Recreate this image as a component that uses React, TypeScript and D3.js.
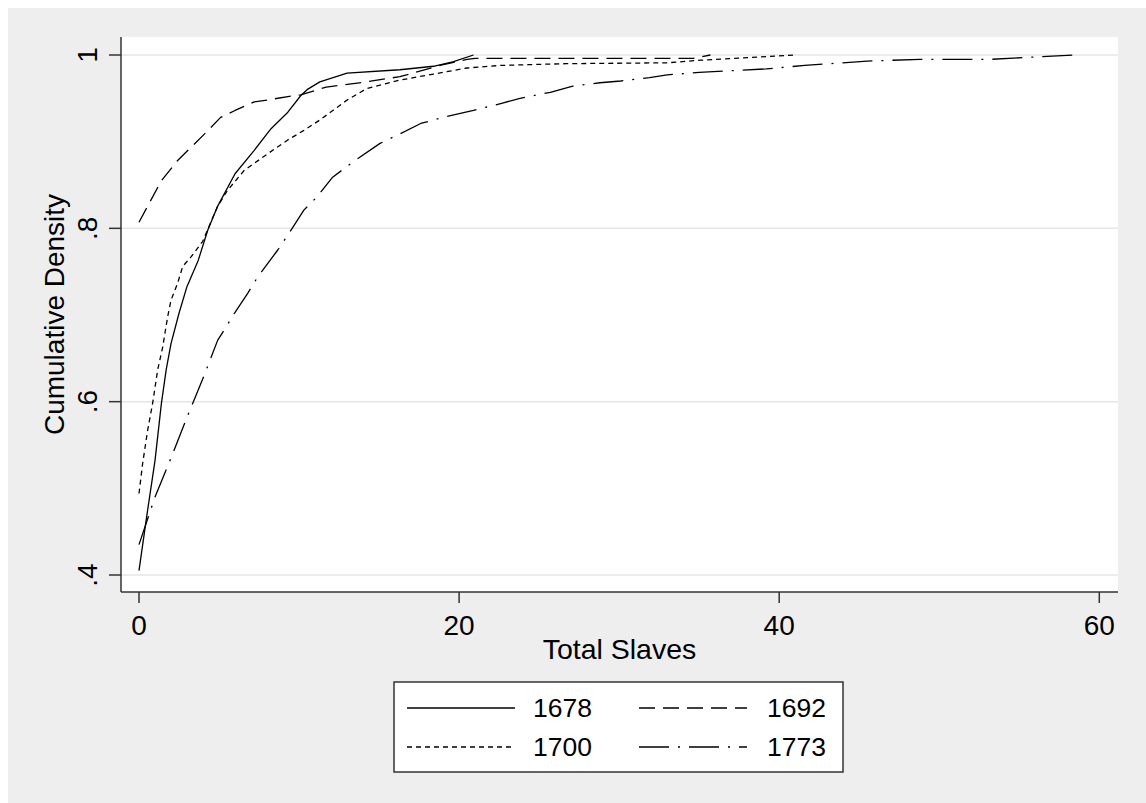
import React from "react";
import * as d3 from "d3";

// ---- data (x = total slaves, y = cumulative density) ----
const s1678: [number, number][] = [
  [0, 0.405], [0.5, 0.47], [1.0, 0.532], [1.4, 0.598], [1.7, 0.637], [2.0, 0.667],
  [2.5, 0.702], [3.0, 0.733], [3.7, 0.763], [4.3, 0.798], [4.9, 0.825], [6.0, 0.863],
  [7.2, 0.89], [8.25, 0.915], [9.3, 0.934], [10.1, 0.953], [10.5, 0.96], [11.3, 0.969],
  [13.0, 0.979], [16.3, 0.983], [18.4, 0.987], [19.6, 0.992], [20.9, 1.0],
];
const s1692: [number, number][] = [
  [0, 0.807], [1.4, 0.855], [2.4, 0.878], [4.1, 0.909], [5.1, 0.928], [6.0, 0.936],
  [7.2, 0.946], [8.0, 0.948], [9.3, 0.952], [10.1, 0.954], [11.7, 0.963], [14.2, 0.969],
  [16.3, 0.975], [18.8, 0.988], [20.5, 0.995], [21.0, 0.996], [34.6, 0.996], [35.7, 1.0],
];
const s1700: [number, number][] = [
  [0, 0.494], [0.23, 0.529], [0.54, 0.567], [0.85, 0.598], [1.17, 0.637], [1.48, 0.663],
  [1.79, 0.698], [2.0, 0.717], [2.42, 0.737], [2.73, 0.756], [3.25, 0.767], [3.98, 0.785],
  [4.9, 0.825], [5.54, 0.844], [6.58, 0.867], [8.04, 0.886], [9.3, 0.902], [10.3, 0.913],
  [11.3, 0.925], [13.0, 0.948], [14.2, 0.961], [16.3, 0.971], [18.4, 0.978], [20.5, 0.985],
  [22.6, 0.988], [26.7, 0.99], [33.0, 0.991], [35.1, 0.994], [41.0, 1.0],
];
const s1773: [number, number][] = [
  [0, 0.435], [1.0, 0.49], [2.0, 0.535], [3.0, 0.582], [4.0, 0.627], [4.92, 0.671],
  [5.33, 0.683], [5.96, 0.702], [6.79, 0.725], [7.42, 0.744], [8.67, 0.775], [9.5, 0.798],
  [10.3, 0.821], [11.1, 0.836], [12.1, 0.859], [13.4, 0.877], [15.06, 0.898], [16.3, 0.909],
  [17.6, 0.921], [19.0, 0.928], [20.9, 0.936], [22.6, 0.944], [23.8, 0.95], [25.7, 0.957],
  [27.1, 0.964], [28.8, 0.968], [30.1, 0.97], [31.9, 0.974], [33.0, 0.977], [35.0, 0.98],
  [37.1, 0.982], [39.2, 0.984], [41.6, 0.988], [45.5, 0.993], [48.8, 0.995], [53.2, 0.995],
  [55.3, 0.997], [58.4, 1.0],
];
const seriesNames = ["1678", "1692", "1700", "1773"];
const xTicks = [0, 20, 40, 60];
const yTicks = [0.4, 0.6, 0.8, 1];
const yTickLabels = [".4", ".6", ".8", "1"];
const xTitle = "Total Slaves";
const yTitle = "Cumulative Density";

const FONT = "'Liberation Sans', Arial, Helvetica, sans-serif";

export default function App() {
  const W = 1146, H = 803;
  const plot = { left: 121, right: 1118, top: 37, bottom: 592 };
  const x = d3.scaleLinear().domain([0, 60]).range([139, 1099.3]);
  const y = d3.scaleLinear().domain([0.4, 1]).range([575, 55]);
  const line = d3.line<[number, number]>().x((d) => x(d[0])).y((d) => y(d[1]));

  const series = [
    { name: seriesNames[0], data: s1678, dash: "none" },
    { name: seriesNames[1], data: s1692, dash: "16,8" },
    { name: seriesNames[2], data: s1700, dash: "5,4" },
    { name: seriesNames[3], data: s1773, dash: "30,9,2,9" },
  ];

  const legendPos = [
    { lx: 407, tx: 533, ly: 708, ty: 717 },
    { lx: 639, tx: 767, ly: 708, ty: 717 },
    { lx: 407, tx: 533, ly: 747, ty: 756 },
    { lx: 639, tx: 767, ly: 747, ty: 756 },
  ];

  return (
    <>
      <style>{`body{margin:0;overflow:hidden}`}</style>
      <svg width={W} height={H} style={{ display: "block" }} fontFamily={FONT}>
        <rect x={0} y={0} width={W} height={H} fill="#ffffff" />
        <rect x={8} y={8} width={W - 8} height={H - 8} fill="#eeeeee" />
        <rect x={plot.left} y={plot.top} width={plot.right - plot.left} height={plot.bottom - plot.top} fill="#ffffff" />

        {/* grid lines */}
        {yTicks.map((t) => (
          <line key={"g" + t} x1={plot.left} x2={plot.right} y1={y(t)} y2={y(t)} stroke="#e6e6e6" strokeWidth={1.5} />
        ))}

        {/* series */}
        {series.map((s) => (
          <path key={s.name} d={line(s.data) || ""} fill="none" stroke="#000" strokeWidth={1.3}
            strokeDasharray={s.dash} strokeLinejoin="round" />
        ))}

        {/* axes */}
        <line x1={plot.left} x2={plot.left} y1={plot.top} y2={plot.bottom} stroke="#333" strokeWidth={1.5} />
        <line x1={plot.left} x2={plot.right} y1={plot.bottom} y2={plot.bottom} stroke="#333" strokeWidth={1.5} />
        {yTicks.map((t, i) => (
          <g key={"yt" + t}>
            <line x1={plot.left - 12} x2={plot.left} y1={y(t)} y2={y(t)} stroke="#333" strokeWidth={1.5} />
            <text transform={`translate(97,${y(t)}) rotate(-90)`} textAnchor="middle" fontSize={28} fill="#000">
              {yTickLabels[i]}
            </text>
          </g>
        ))}
        {xTicks.map((t) => (
          <g key={"xt" + t}>
            <line x1={x(t)} x2={x(t)} y1={plot.bottom} y2={plot.bottom + 11} stroke="#333" strokeWidth={1.5} />
            <text x={x(t)} y={635} textAnchor="middle" fontSize={28} fill="#000">{t}</text>
          </g>
        ))}
        <text x={(plot.left + plot.right) / 2} y={659} textAnchor="middle" fontSize={28.5} fill="#000">{xTitle}</text>
        <text transform={`translate(63.5,${(plot.top + plot.bottom) / 2}) rotate(-90)`} textAnchor="middle" fontSize={28} fill="#000">
          {yTitle}
        </text>

        {/* legend */}
        <rect x={394} y={682} width={449} height={90} fill="#ffffff" stroke="#333" strokeWidth={1.5} />
        {series.map((s, i) => (
          <g key={"lg" + s.name}>
            <line x1={legendPos[i].lx} x2={legendPos[i].lx + 108} y1={legendPos[i].ly} y2={legendPos[i].ly}
              stroke="#000" strokeWidth={1.3} strokeDasharray={s.dash} />
            <text x={legendPos[i].tx} y={legendPos[i].ty} fontSize={26.5} fill="#000">{s.name}</text>
          </g>
        ))}
      </svg>
    </>
  );
}
